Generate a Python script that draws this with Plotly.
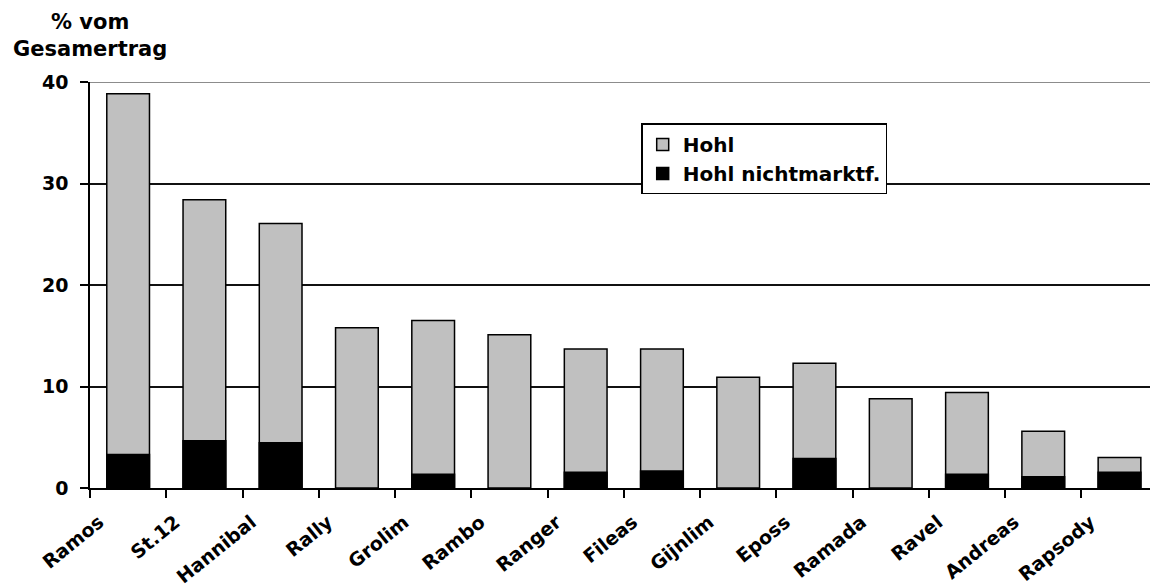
import plotly.graph_objects as go

# Sorten (x-Achse)
sorten = ["Ramos", "St.12", "Hannibal", "Rally", "Grolim", "Rambo", "Ranger",
          "Fileas", "Gijnlim", "Eposs", "Ramada", "Ravel", "Andreas", "Rapsody"]

# Hohlherzigkeit gesamt, % vom Gesamtertrag
hohl = [38.85, 28.4, 26.05, 15.8, 16.5, 15.1, 13.7,
        13.7, 10.9, 12.3, 8.8, 9.4, 5.6, 3.0]

# davon nicht marktfähig, % vom Gesamtertrag (None = kein Anteil)
hohl_nm = [3.3, 4.65, 4.45, None, 1.35, None, 1.55,
           1.67, None, 2.9, None, 1.35, 1.1, 1.55]

y_ticks = [0, 10, 20, 30, 40]

FONT = "DejaVu Sans"
BAR_W = 0.56

fig = go.Figure()
fig.add_trace(go.Bar(
    x=sorten, y=hohl, name="<b>Hohl</b>", width=BAR_W,
    marker=dict(color="#C0C0C0", line=dict(color="black", width=1.5)),
))
fig.add_trace(go.Bar(
    x=sorten, y=hohl_nm, name="<b>Hohl nichtmarktf.</b>", width=BAR_W,
    marker=dict(color="black", line=dict(color="black", width=1.5)),
))

fig.update_layout(
    width=1150, height=586,
    margin=dict(l=90, r=0, t=82, b=98),
    barmode="overlay",
    plot_bgcolor="white", paper_bgcolor="white",
    font=dict(family=FONT, color="black"),
    showlegend=True,
    legend=dict(
        x=0.52, y=0.898, xanchor="left", yanchor="top",
        bgcolor="white", bordercolor="black", borderwidth=1.5,
        font=dict(family=FONT, size=20, color="black"),
        traceorder="normal", tracegroupgap=0, itemwidth=30,
    ),
    xaxis=dict(
        type="category",
        range=[-0.5, 13.40],
        showline=True, linecolor="black", linewidth=1.5,
        ticks="outside", tickson="boundaries", ticklen=8, tickwidth=1.5,
        tickcolor="black",
        tickangle=-39,
        ticklabelshift=-29,
        ticklabelstandoff=14,
        tickfont=dict(family=FONT, size=19, color="black", weight="bold"),
        showgrid=False,
    ),
    yaxis=dict(
        range=[0, 40],
        tickvals=y_ticks,
        showline=True, linecolor="black", linewidth=1.5,
        ticks="outside", ticklen=8, tickwidth=1.5, tickcolor="black",
        ticklabelstandoff=8,
        tickfont=dict(family=FONT, size=19, color="black", weight="bold"),
        showgrid=True, gridcolor="#111111", gridwidth=1.5,
        zeroline=False,
    ),
    annotations=[dict(
        text="<b>% vom<br>Gesamertrag</b>",
        xref="paper", yref="paper", x=0.0, y=1.115,
        xanchor="center", yanchor="middle", showarrow=False,
        font=dict(family=FONT, size=21, color="black"),
    )],
    shapes=[dict(
        type="line", xref="paper", yref="y", x0=0, x1=1, y0=40, y1=40,
        line=dict(color="#8C8C8C", width=2), layer="above",
    )],
)

fig.write_html("out.html")
